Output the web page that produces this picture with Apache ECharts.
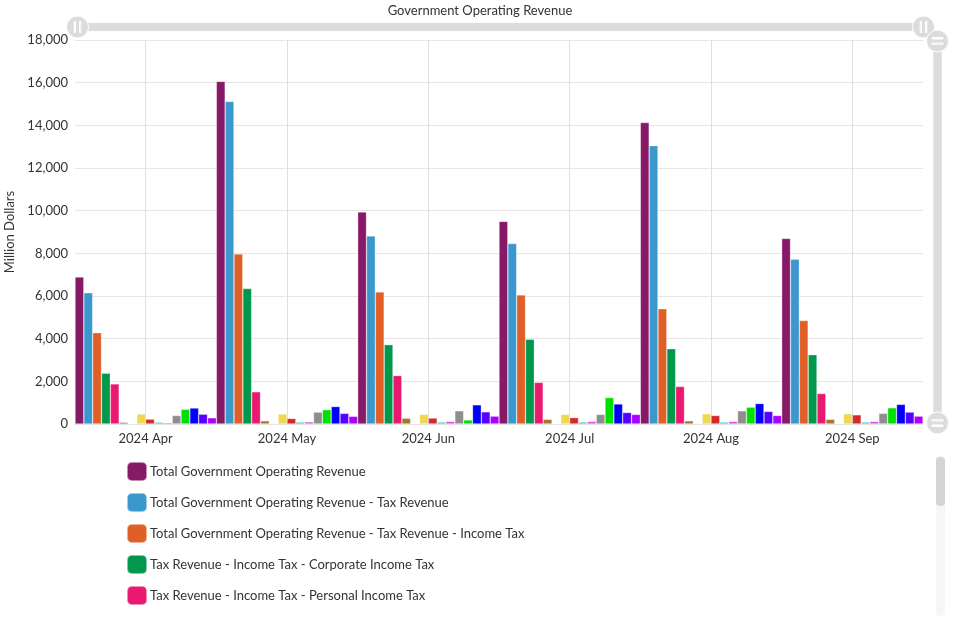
<!DOCTYPE html>
<html>
<head>
<meta charset="utf-8">
<script src="https://cdn.jsdelivr.net/npm/echarts@6/dist/echarts.min.js"></script>
<style>
html,body{margin:0;padding:0;background:#fff;}
#chart{width:960px;height:628px;}
</style>
</head>
<body>
<div id="chart"></div>
<script>
const chartTitle = 'Government Operating Revenue';
const yAxisName = 'Million Dollars';
const categories = ['2024 Apr', '2024 May', '2024 Jun', '2024 Jul', '2024 Aug', '2024 Sep'];

const totalRevenue      = [6890, 16060, 9940, 9500, 14130, 8700];
const taxRevenue        = [6150, 15120, 8820, 8460, 13050, 7730];
const incomeTax         = [4280, 7970, 6190, 6050, 5400, 4850];
const corporateIncomeTax= [2380, 6350, 3720, 3970, 3530, 3250];
const personalIncomeTax = [1880, 1510, 2270, 1950, 1760, 1430];
const withholdingTax    = [80, 150, 270, 220, 150, 220];
const statutoryBoards   = [20, 20, 20, 20, 20, 20];
const assetsTaxes       = [470, 470, 450, 450, 480, 480];
const motorVehicleTaxes = [230, 260, 280, 300, 400, 430];
const customsExcise     = [80, 90, 90, 90, 90, 90];
const bettingTaxes      = [60, 100, 120, 120, 120, 120];
const stampDuty         = [400, 560, 620, 450, 620, 500];
const goodsServicesTax  = [690, 670, 190, 1240, 790, 760];
const vehicleQuota      = [750, 820, 900, 940, 960, 920];
const otherTaxes        = [460, 500, 570, 540, 590, 560];
const feesCharges       = [290, 360, 370, 450, 400, 370];

const seriesNames = [
  'Total Government Operating Revenue',
  'Total Government Operating Revenue - Tax Revenue',
  'Total Government Operating Revenue - Tax Revenue - Income Tax',
  'Tax Revenue - Income Tax - Corporate Income Tax',
  'Tax Revenue - Income Tax - Personal Income Tax',
  'Tax Revenue - Income Tax - Withholding Tax',
  'Total Government Operating Revenue - Tax Revenue - Statutory Boards Contributions',
  'Total Government Operating Revenue - Tax Revenue - Assets Taxes',
  'Total Government Operating Revenue - Tax Revenue - Taxes On Motor Vehicles',
  'Total Government Operating Revenue - Tax Revenue - Customs And Excise Duties',
  'Total Government Operating Revenue - Tax Revenue - Betting Taxes',
  'Total Government Operating Revenue - Tax Revenue - Stamp Duty',
  'Total Government Operating Revenue - Tax Revenue - Goods And Services Tax',
  'Total Government Operating Revenue - Tax Revenue - Vehicle Quota Premiums',
  'Total Government Operating Revenue - Tax Revenue - Others',
  'Total Government Operating Revenue - Fees And Charges'
];
const seriesValues = [totalRevenue, taxRevenue, incomeTax, corporateIncomeTax, personalIncomeTax,
  withholdingTax, statutoryBoards, assetsTaxes, motorVehicleTaxes, customsExcise, bettingTaxes,
  stampDuty, goodsServicesTax, vehicleQuota, otherTaxes, feesCharges];
const seriesColors = ['#861a66', '#3a98cc', '#e05f27', '#00984a', '#e8196e', '#a8752a', '#aaaaaa',
  '#efd94a', '#d42a2a', '#20c8b8', '#e040f0', '#8e8e8e', '#00e000', '#0000ff', '#5500ff', '#aa00ff'];
const legendShown = seriesNames.slice(0, 5);

const font = 'Lato, "Open Sans", sans-serif';
const chart = echarts.init(document.getElementById('chart'), null, {renderer: 'canvas'});

const handleIcon = 'path://M0,-10 A10,10 0 1,1 0,10 A10,10 0 1,1 0,-10 Z M-3,-5 L-3,5 L-1.8,5 L-1.8,-5 Z M1.8,-5 L1.8,5 L3,5 L3,-5 Z';

const option = {
  animation: false,
  backgroundColor: '#fff',
  textStyle: {fontFamily: font},
  title: {
    text: chartTitle, left: 'center', top: -1,
    textStyle: {fontFamily: font, fontSize: 13, fontWeight: 'normal', color: '#333'}
  },
  grid: {left: 75, right: 37, top: 40, bottom: 204, containLabel: false, outerBoundsMode: 'none'},
  legend: {
    data: legendShown,
    orient: 'vertical', left: 126, top: 461, padding: 0,
    itemWidth: 20, itemHeight: 19, itemGap: 10, icon: 'roundRect',
    textStyle: {fontFamily: font, fontSize: 13, color: '#333', padding: [0, 0, 0, -2]}
  },
  xAxis: {
    type: 'category', data: categories,
    axisLine: {show: true, lineStyle: {color: '#e3e3e3'}},
    axisTick: {show: false},
    axisLabel: {fontFamily: font, fontSize: 13, color: '#333', margin: 8},
    splitLine: {show: true, alignWithLabel: true, lineStyle: {color: '#e0e0e0'}}
  },
  yAxis: {
    type: 'value', min: 0, max: 18000, interval: 2000,
    name: yAxisName, nameLocation: 'middle', nameGap: 57,
    nameTextStyle: {fontFamily: font, fontSize: 13, color: '#333'},
    axisLine: {show: false}, axisTick: {show: false},
    axisLabel: {fontFamily: font, fontSize: 13, color: '#333', margin: 7,
      formatter: v => v.toLocaleString('en-US')},
    splitLine: {lineStyle: {color: '#e6e6e6'}}
  },
  dataZoom: [
    {
      type: 'slider', xAxisIndex: 0, orient: 'horizontal',
      left: 75, right: 37, top: 23, height: 8,
      showDetail: false, showDataShadow: false, brushSelect: false,
      moveHandleSize: 0,
      backgroundColor: '#dcdcdc', fillerColor: '#dcdcdc', borderColor: 'transparent',
      dataBackground: {lineStyle: {opacity: 0}, areaStyle: {opacity: 0}},
      handleIcon: handleIcon, handleSize: '275%',
      handleStyle: {color: '#dcdcdc', borderColor: '#fff', borderWidth: 1, shadowBlur: 0, opacity: 1},
      emphasis: {handleStyle: {color: '#dcdcdc', borderColor: '#fff'}}
    },
    {
      type: 'slider', yAxisIndex: 0, orient: 'vertical',
      left: 933, width: 8, top: 40, bottom: 204,
      showDetail: false, showDataShadow: false, brushSelect: false,
      moveHandleSize: 0,
      backgroundColor: '#dcdcdc', fillerColor: '#dcdcdc', borderColor: 'transparent',
      dataBackground: {lineStyle: {opacity: 0}, areaStyle: {opacity: 0}},
      handleIcon: handleIcon, handleSize: '275%',
      handleStyle: {color: '#dcdcdc', borderColor: '#fff', borderWidth: 1, shadowBlur: 0, opacity: 1},
      emphasis: {handleStyle: {color: '#dcdcdc', borderColor: '#fff'}}
    }
  ],
  graphic: [
    {type: 'rect', left: 936, top: 456, shape: {width: 9, height: 160, r: 4}, style: {fill: '#f6f6f6'}, silent: true},
    {type: 'rect', left: 936, top: 457, shape: {width: 9, height: 49, r: 4}, style: {fill: '#d4d4d4'}, silent: true}
  ],
  series: seriesNames.map((name, i) => ({
    name: name, type: 'bar', data: seriesValues[i],
    barGap: '0%', barCategoryGap: '0%',
    itemStyle: {color: seriesColors[i], borderColor: 'rgba(255,255,255,0.5)', borderWidth: 0.6}
  }))
};
chart.setOption(option);
</script>
</body>
</html>
